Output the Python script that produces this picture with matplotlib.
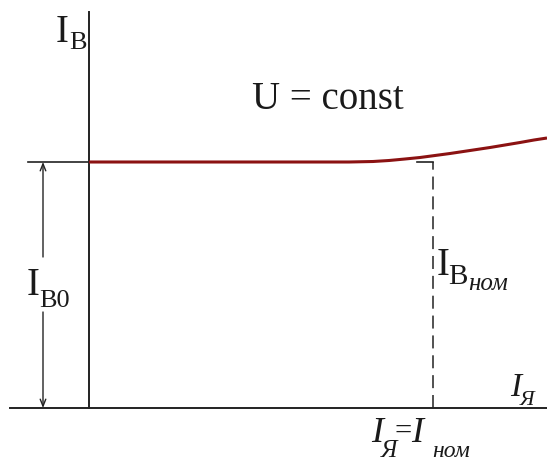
import matplotlib.pyplot as plt

# characteristic I_B(I_Ya) at U = const  (units: arbitrary, origin at axes crossing)
ia_vals = [0, 100, 200, 260, 284, 300, 316, 331, 346, 361, 381, 401, 416, 431, 445, 458]
ib_vals = [246, 246, 246, 246, 246.5, 247.5, 249, 250.5, 252.5, 254.5, 257.5, 260.5, 263, 265.5, 268, 270]
ib0 = 246        # I_B0
ia_nom = 344     # I_Ya = I_nom
ax_top = 396
ax_right = 458

plt.rcParams['font.family'] = ['Liberation Serif', 'DejaVu Serif']

fig = plt.figure(figsize=(5.47, 4.63), dpi=100)
ax = fig.add_axes([0, 0, 1, 1])
ax.set_xlim(-89, 458)
ax.set_ylim(-55, 408)
ax.axis('off')

axc = '#222222'
# axes
ax.plot([0, 0], [0, ax_top], color=axc, lw=1.4)
ax.plot([-79, ax_right], [0, 0], color=axc, lw=1.4)
# level of I_B0
ax.plot([-61, 0], [ib0, ib0], color=axc, lw=1.2)
ax.plot([ia_nom - 16, ia_nom], [ib0, ib0], color=axc, lw=1.2)
# dashed line at nominal current
dl, = ax.plot([ia_nom, ia_nom], [0, ib0], color=axc, lw=1.1)
dl.set_dashes([8.5, 4.5])

# curve
ax.plot(ia_vals, ib_vals, color='#8b1212', lw=2.2, solid_capstyle='butt')

# double arrow for I_B0 (split by label)
ap = dict(arrowstyle='->,head_length=0.5,head_width=0.2', lw=1.0, color=axc,
          shrinkA=0, shrinkB=0)
ax.annotate('', xy=(-46, ib0), xytext=(-46, 151), arrowprops=ap)
ax.annotate('', xy=(-46, 0), xytext=(-46, 96), arrowprops=ap)


def px(x, y):
    return x - 89, 408 - y


def txt(x, y, s, size, style='normal'):
    ax.text(*px(x, y), s, fontsize=size, fontstyle=style, color='#1a1a1a',
            ha='left', va='baseline')


# I_B axis label
txt(56, 42, 'I', 28)
txt(69, 49, 'B', 19)
# U = const
ax.text(*px(328, 109), 'U = const', fontsize=28, color='#1a1a1a',
        ha='center', va='baseline')
# I_B0
txt(27, 295, 'I', 28)
txt(39, 307, 'B0', 19)
# I_Bnom
txt(437, 275, 'I', 28)
txt(448, 284, 'B', 21)
txt(468, 290, 'ном', 18, 'italic')
# I_Ya axis label
txt(510, 396, 'I', 24, 'italic')
txt(520, 405, 'Я', 16, 'italic')
# I_Ya = I_nom
txt(371, 442, 'I', 26, 'italic')
txt(381, 457, 'Я', 18, 'italic')
txt(395, 440, '=', 22)
txt(411, 442, 'I', 26, 'italic')
txt(432, 457, 'ном', 17, 'italic')

fig.savefig('out.png', dpi=100)
